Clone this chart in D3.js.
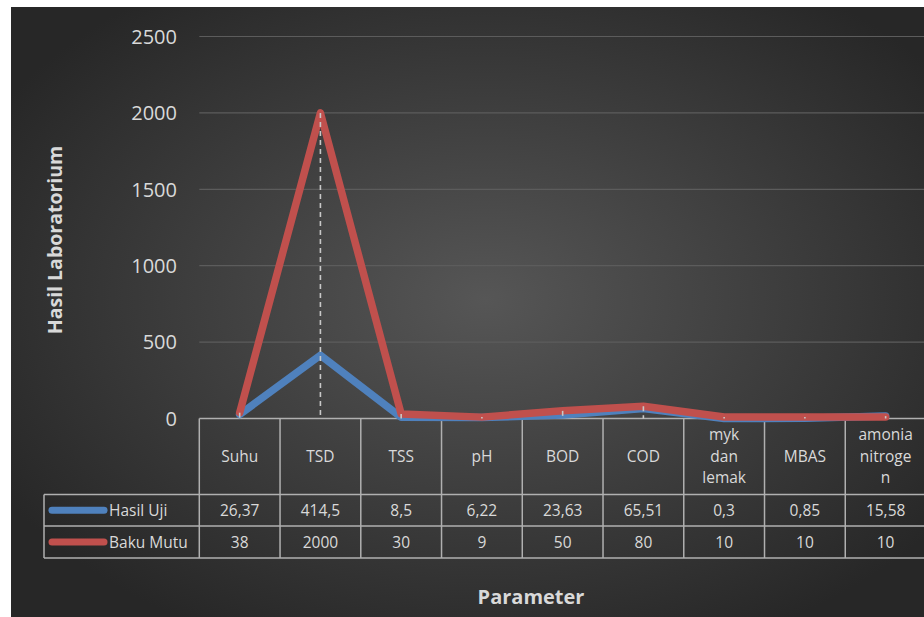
<!DOCTYPE html>
<html>
<head>
<meta charset="utf-8">
<script src="https://cdn.jsdelivr.net/npm/d3@7"></script>
<style>
  html, body { margin: 0; padding: 0; background: #ffffff; }
  svg { display: block; }
  text { font-family: "Open Sans", "Noto Sans", sans-serif; }
</style>
</head>
<body>
<svg id="chart" width="924" height="617"></svg>
<script>
// Parameter names (header cells may wrap onto several lines)
const categories = ["Suhu", "TSD", "TSS", "pH", "BOD", "COD", "myk dan lemak", "MBAS", "amonia nitrogen"];
const categoryLines = [["Suhu"], ["TSD"], ["TSS"], ["pH"], ["BOD"], ["COD"], ["myk", "dan", "lemak"], ["MBAS"], ["amonia", "nitroge", "n"]];
const hasilUji = [26.37, 414.5, 8.5, 6.22, 23.63, 65.51, 0.3, 0.85, 15.58];
const bakuMutu = [38, 2000, 30, 9, 50, 80, 10, 10, 10];
const hasilUjiLabels = ["26,37", "414,5", "8,5", "6,22", "23,63", "65,51", "0,3", "0,85", "15,58"];
const bakuMutuLabels = ["38", "2000", "30", "9", "50", "80", "10", "10", "10"];
const yTicks = [0, 500, 1000, 1500, 2000, 2500];
const seriesNames = ["Hasil Uji", "Baku Mutu"];
const seriesColors = ["#4f81bd", "#c0504d"];

const svg = d3.select("#chart");
const W = 924, H = 617;

// Background panel with soft radial shading
const defs = svg.append("defs");
const grad = defs.append("radialGradient").attr("id", "bg")
  .attr("cx", "52%").attr("cy", "48%").attr("r", "62%");
grad.append("stop").attr("offset", "0%").attr("stop-color", "#565656");
grad.append("stop").attr("offset", "100%").attr("stop-color", "#272727");
svg.append("rect").attr("x", 11).attr("y", 7).attr("width", W - 11).attr("height", H - 7)
  .attr("fill", "url(#bg)");

const plotLeft = 199.3, plotRight = 926;
const x = d3.scaleBand().domain(categories).range([plotLeft, plotRight]).padding(0);
const y = d3.scaleLinear().domain([0, 2500]).range([418.5, 36.5]);
const cx = c => x(c) + x.bandwidth() / 2;

// Gridlines
svg.append("g").selectAll("line").data(yTicks.filter(t => t > 0)).join("line")
  .attr("x1", plotLeft).attr("x2", W)
  .attr("y1", d => y(d)).attr("y2", d => y(d))
  .attr("stroke", "#5c5c5c").attr("stroke-width", 1.2);

// Y axis tick labels
const yAxis = d3.axisLeft(y).tickValues(yTicks).tickFormat(d3.format("d")).tickSize(0).tickPadding(0);
const yg = svg.append("g").attr("transform", `translate(177,0)`).call(yAxis);
yg.select(".domain").remove();
yg.selectAll("text").attr("fill", "#d9d9d9").attr("font-size", 20)
  .attr("font-family", "'Open Sans', sans-serif").attr("dy", "0.34em");

// Data table (header row, two series rows)
const rowTop = 418.5, headerBottom = 494.5, row1Bottom = 526, row2Bottom = 558;
const legendLeft = 44;
const tableStroke = "#b0b0b0";
const tbl = svg.append("g").attr("stroke", tableStroke).attr("stroke-width", 1.5).attr("fill", "none");
// horizontal rules
tbl.append("line").attr("x1", plotLeft).attr("x2", W).attr("y1", rowTop).attr("y2", rowTop);
tbl.append("line").attr("x1", legendLeft).attr("x2", W).attr("y1", headerBottom).attr("y2", headerBottom);
tbl.append("line").attr("x1", legendLeft).attr("x2", W).attr("y1", row1Bottom).attr("y2", row1Bottom);
tbl.append("line").attr("x1", legendLeft).attr("x2", W).attr("y1", row2Bottom).attr("y2", row2Bottom);
// vertical rules
tbl.append("line").attr("x1", legendLeft).attr("x2", legendLeft).attr("y1", headerBottom).attr("y2", row2Bottom);
tbl.selectAll("line.col").data(categories.concat(["_end"])).join("line").attr("class", "col")
  .attr("x1", (d, i) => plotLeft + i * x.bandwidth())
  .attr("x2", (d, i) => plotLeft + i * x.bandwidth())
  .attr("y1", rowTop).attr("y2", row2Bottom);

// Header labels
const hdr = svg.append("g").attr("fill", "#d9d9d9").attr("font-size", 15.5).attr("text-anchor", "middle");
categories.forEach((c, i) => {
  const lines = categoryLines[i];
  const lh = 21.5;
  const mid = (rowTop + headerBottom) / 2;
  lines.forEach((t, k) => {
    hdr.append("text").attr("x", cx(c))
      .attr("y", mid + (k - (lines.length - 1) / 2) * lh)
      .attr("dy", "0.35em").text(t);
  });
});

// Value rows
const rows = [
  { labels: hasilUjiLabels, top: headerBottom, bottom: row1Bottom },
  { labels: bakuMutuLabels, top: row1Bottom, bottom: row2Bottom }
];
rows.forEach((r, si) => {
  const g = svg.append("g").attr("fill", "#d9d9d9").attr("font-size", 15.5).attr("text-anchor", "middle");
  g.selectAll("text").data(categories).join("text")
    .attr("x", d => cx(d)).attr("y", (r.top + r.bottom) / 2).attr("dy", "0.36em")
    .text((d, i) => r.labels[i]);
  // legend key
  const ym = (r.top + r.bottom) / 2;
  svg.append("line").attr("x1", 52).attr("x2", 104).attr("y1", ym).attr("y2", ym)
    .attr("stroke", seriesColors[si]).attr("stroke-width", 7).attr("stroke-linecap", "round");
  svg.append("text").attr("x", 109).attr("y", ym).attr("dy", "0.36em")
    .attr("fill", "#d9d9d9").attr("font-size", 15.5).text(seriesNames[si]);
});

// Series lines
const line = d3.line().x((d, i) => cx(categories[i])).y(d => y(d));
[hasilUji, bakuMutu].forEach((vals, si) => {
  svg.append("path").datum(vals).attr("d", line)
    .attr("fill", "none").attr("stroke", seriesColors[si]).attr("stroke-width", 7.5)
    .attr("stroke-linejoin", "round").attr("stroke-linecap", "round");
});

// Drop lines from the highest point of each category down to zero
svg.append("g").selectAll("line").data(categories).join("line")
  .attr("x1", d => cx(d)).attr("x2", d => cx(d))
  .attr("y1", (d, i) => y(Math.max(hasilUji[i], bakuMutu[i])))
  .attr("y2", y(0))
  .attr("stroke", "#c8c8c8").attr("stroke-width", 1.6).attr("stroke-dasharray", "5,4");

// Axis titles
svg.append("text").attr("x", 531).attr("y", 597).attr("dy", "0.35em")
  .attr("text-anchor", "middle").attr("font-weight", "bold").attr("font-size", 20)
  .attr("fill", "#d9d9d9").text("Parameter");
svg.append("text").attr("transform", "translate(55,240) rotate(-90)").attr("dy", "0.35em")
  .attr("text-anchor", "middle").attr("font-weight", "bold").attr("font-size", 19.5)
  .attr("fill", "#d9d9d9").text("Hasil Laboratorium");
</script>
</body>
</html>
